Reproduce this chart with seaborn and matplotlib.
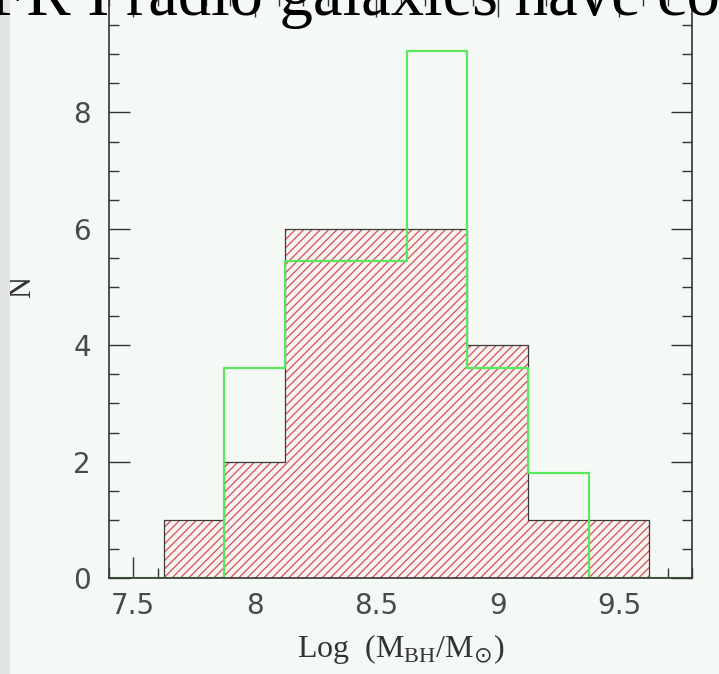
import matplotlib
matplotlib.use("Agg")
import matplotlib.pyplot as plt
import seaborn as sns
import pandas as pd
from matplotlib.ticker import MultipleLocator
from matplotlib.patches import Rectangle

# bin centres of log black hole mass (0.25 dex bins)
bin_centres = [7.5, 7.75, 8.0, 8.25, 8.5, 8.75, 9.0, 9.25, 9.5, 9.75]
bin_edges = [7.375, 7.625, 7.875, 8.125, 8.375, 8.625, 8.875, 9.125, 9.375, 9.625, 9.875]
# hatched (red) sample counts
red_counts = [0, 1, 2, 6, 6, 6, 4, 1, 1, 0]
# comparison (green) sample, scaled counts
green_counts = [0, 0, 3.6, 5.45, 5.45, 9.05, 3.6, 1.8, 0, 0]

title_text = "FR I radio galaxies have co"
xticks = [7.5, 8, 8.5, 9, 9.5]
yticks = [0, 2, 4, 6, 8]

df = pd.DataFrame({"logm": bin_centres, "red": red_counts, "green": green_counts})

bg = "#f4f9f6"
sns.set_style("ticks")
plt.rcParams["hatch.linewidth"] = 0.95
plt.rcParams["hatch.color"] = "#d05858"

fig = plt.figure(figsize=(7.19, 6.74), dpi=100, facecolor=bg)
# grey strip at the left edge of the slide
fig.patches.append(Rectangle((0, 0), 10 / 719, 1, transform=fig.transFigure,
                             facecolor="#e2e4e3", edgecolor="none", zorder=0))
ax = fig.add_axes([109 / 719, 96 / 674, 583 / 719, 582 / 674])
ax.set_facecolor(bg)

# hatched fill
sns.histplot(data=df, x="logm", weights="red", bins=bin_edges, element="step",
             fill=True, ax=ax, facecolor="#fbf3f3", edgecolor="#d05858", linewidth=0,
             hatch="////", alpha=1)
# dark outline of the hatched histogram
sns.histplot(data=df, x="logm", weights="red", bins=bin_edges, element="step",
             fill=False, ax=ax, color="#3a3a3a", linewidth=0.9)
# green comparison histogram
sns.histplot(data=df, x="logm", weights="green", bins=bin_edges, element="step",
             fill=False, ax=ax, color="#5ae85a", linewidth=1.6)

ax.set_xlim(7.4, 9.8)
ax.set_ylim(0, 10)
ax.set_xticks(xticks)
ax.set_xticklabels(["7.5", "8", "8.5", "9", "9.5"])
ax.set_yticks(yticks)
ax.xaxis.set_minor_locator(MultipleLocator(0.1))
ax.yaxis.set_minor_locator(MultipleLocator(0.5))
ax.tick_params(which="both", direction="in", top=True, right=True,
               color="#333333", width=1.0)
ax.tick_params(which="major", length=15, labelsize=20, labelcolor="#4a4a4a")
ax.tick_params(which="minor", length=7.5)
ax.tick_params(axis="x", which="major", pad=10)
ax.tick_params(axis="y", which="major", pad=13)
for lab in ax.get_xticklabels() + ax.get_yticklabels():
    lab.set_family("DejaVu Sans")
for sp in ax.spines.values():
    sp.set_color("#333333")
    sp.set_linewidth(1.2)
    sp.set_visible(True)

ax.set_xlabel(r"Log  (M$_{\mathregular{BH}}$/M$_{\odot}$)", family="Liberation Serif",
              fontsize=23, color="#333333", labelpad=9)
ax.set_ylabel("N", family="Liberation Serif", fontsize=22, color="#333333",
              labelpad=26)

fig.text(-11 / 719, 1 - 15 / 674, title_text, family="Liberation Serif",
         fontsize=48, color="black", ha="left", va="baseline")

fig.savefig("out.png", dpi=100, facecolor=bg)
